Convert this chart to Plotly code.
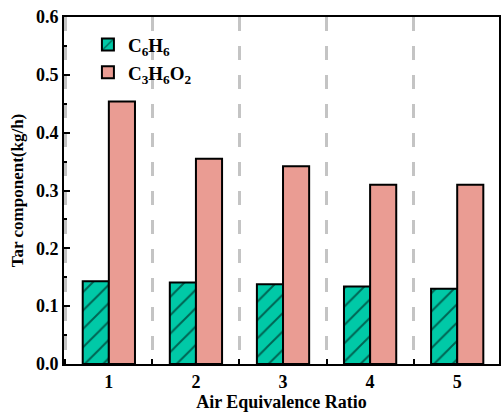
import plotly.graph_objects as go

categories = [1, 2, 3, 4, 5]
c6h6 = [0.143, 0.141, 0.138, 0.134, 0.130]
c3h6o2 = [0.454, 0.355, 0.342, 0.310, 0.310]
series_names = ["C<sub>6</sub>H<sub>6</sub>", "C<sub>3</sub>H<sub>6</sub>O<sub>2</sub>"]
y_ticks = [0.0, 0.1, 0.2, 0.3, 0.4, 0.5, 0.6]

FONT = "Liberation Serif"

fig = go.Figure()
fig.add_trace(go.Bar(
    x=categories, y=c6h6, name=series_names[0],
    marker=dict(color="#00C9A7", line=dict(color="black", width=2),
                pattern=dict(shape="/", fgcolor="black", bgcolor="#00C9A7",
                             size=13, solidity=0.15, fillmode="overlay")),
))
fig.add_trace(go.Bar(
    x=categories, y=c3h6o2, name=series_names[1],
    marker=dict(color="#EA9C93", line=dict(color="black", width=2)),
))

fig.update_layout(
    width=503, height=416,
    margin=dict(l=64, r=2, t=17, b=52),
    paper_bgcolor="white", plot_bgcolor="white",
    barmode="group", bargap=0.4, bargroupgap=0,
    font=dict(family=FONT, color="black", size=17, weight="bold"),
    showlegend=True,
    legend=dict(x=0.055, y=0.975, xanchor="left", yanchor="top",
                bgcolor="rgba(0,0,0,0)",
                font=dict(family=FONT, size=19, color="black", weight="bold"),
                tracegroupgap=0, itemwidth=30),
)
fig.update_xaxes(
    range=[0.485, 5.48], tickvals=categories, ticktext=[str(c) for c in categories],
    ticks="", showline=True, linecolor="black", linewidth=2, mirror=True,
    showgrid=False, zeroline=False,
    tickfont=dict(family=FONT, size=18, color="black", weight="bold"),
    title=dict(text="Air Equivalence Ratio",
               font=dict(family=FONT, size=18, weight="bold"), standoff=4),
    minor=dict(tick0=1.5, dtick=1, ticks="inside", ticklen=5, tickwidth=2, tickcolor="black",
               showgrid=True, gridcolor="#c4c4c4", gridwidth=2.5, griddash="14px,15px"),
)
fig.update_yaxes(
    range=[0, 0.6], tickvals=y_ticks, tickformat=".1f",
    ticks="inside", ticklen=6, tickwidth=2, tickcolor="black",
    showline=True, linecolor="black", linewidth=2, mirror=True,
    showgrid=False, zeroline=False,
    tickfont=dict(family=FONT, size=18, color="black", weight="bold"),
    title=dict(text="Tar component(kg/h)",
               font=dict(family=FONT, size=17, weight="bold"), standoff=8),
    minor=dict(dtick=0.05, ticks="inside", ticklen=3, tickwidth=2, tickcolor="black", showgrid=False),
)

fig.write_html("out.html")
